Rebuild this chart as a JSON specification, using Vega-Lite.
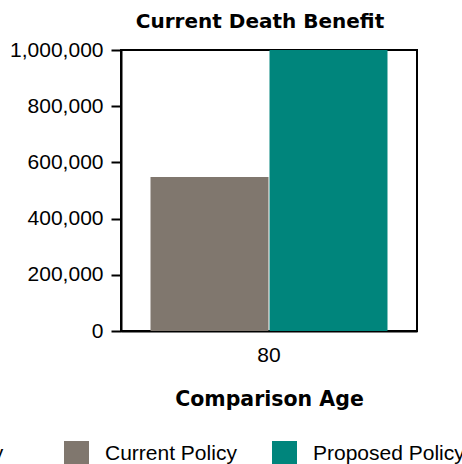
{
  "$schema": "https://vega.github.io/schema/vega-lite/v6.json",
  "autosize": {"type": "none"},
  "width": 296,
  "height": 281,
  "padding": {"left": 121, "top": 50, "right": 45, "bottom": 133},
  "background": "white",
  "title": {"text": "Current Death Benefit", "font": "DejaVu Sans", "fontWeight": "bold", "fontSize": 20, "color": "black", "anchor": "middle", "dx": -9, "offset": 7},
  "data": {"values": [
    {"age": "80", "policy": "Current Policy", "benefit": 548000},
    {"age": "80", "policy": "Proposed Policy", "benefit": 1000000}
  ]},
  "mark": {"type": "bar"},
  "encoding": {
    "x": {"field": "age", "type": "nominal", "scale": {"paddingInner": 0, "paddingOuter": 0.1245},
      "axis": {"title": "Comparison Age", "labelAngle": 0, "ticks": false, "labelPadding": 13, "labelFont": "Liberation Sans", "labelFontSize": 21, "labelColor": "black", "titleFont": "DejaVu Sans", "titleFontWeight": "bold", "titleFontSize": 20.5, "titleColor": "black", "titlePadding": 24, "domainColor": "black", "domainWidth": 2}},
    "xOffset": {"field": "policy", "type": "nominal", "scale": {"domain": ["Current Policy", "Proposed Policy"], "paddingInner": 0.0085, "paddingOuter": 0}},
    "y": {"field": "benefit", "type": "quantitative", "scale": {"domain": [0, 1000000], "nice": false},
      "axis": {"title": null, "values": [0, 200000, 400000, 600000, 800000, 1000000], "format": ",.0f", "grid": false, "tickSize": 10, "tickWidth": 2, "tickColor": "black", "labelPadding": 8, "labelFont": "Liberation Sans", "labelFontSize": 21, "labelColor": "black", "domainColor": "black", "domainWidth": 2}},
    "color": {"field": "policy", "type": "nominal",
      "scale": {"domain": ["Prior Policy", "Current Policy", "Proposed Policy"], "range": ["#b9b1a8", "#80776e", "#00857c"]},
      "legend": {"title": null, "orient": "none", "legendX": -265, "legendY": 391, "direction": "horizontal", "columns": 3, "gridAlign": "all", "columnPadding": 15, "symbolType": "square", "symbolSize": 625, "symbolStrokeWidth": 0, "labelOffset": 16, "labelFont": "Liberation Sans", "labelFontSize": 21, "labelColor": "black", "padding": 0, "labelLimit": 400}}
  },
  "config": {"view": {"stroke": "black", "strokeWidth": 2}}
}
